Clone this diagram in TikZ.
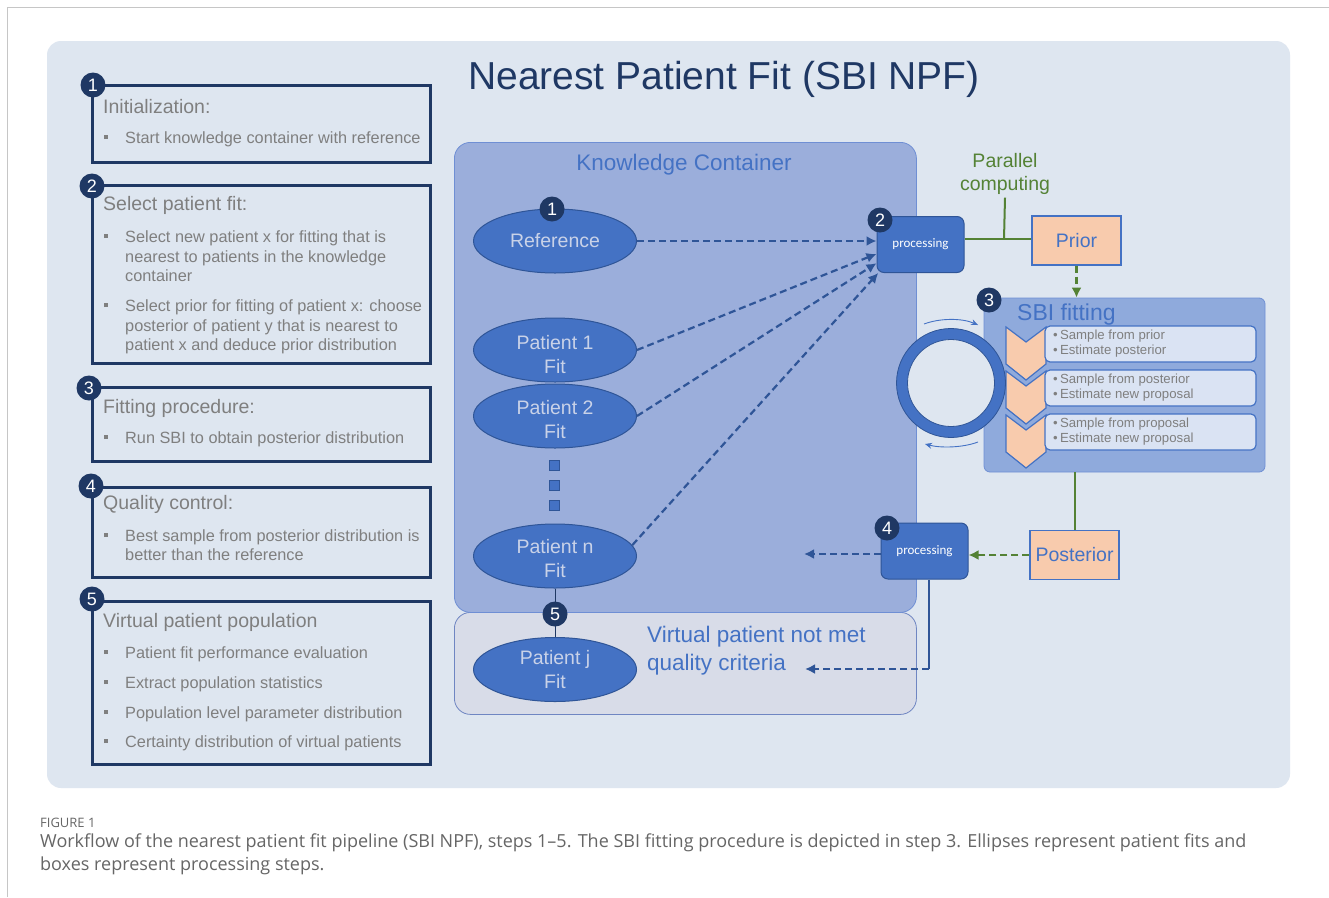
\documentclass[tikz,border=0pt]{standalone}
\usepackage{fontspec}
\setmainfont{Liberation Sans}
\newfontfamily\procfont{Carlito}
\newfontfamily\capfont{Open Sans}
\usetikzlibrary{positioning,shapes.geometric,arrows.meta,calc}

\definecolor{panelbg}{HTML}{DEE6F0}
\definecolor{navy}{HTML}{1F3864}
\definecolor{graytext}{HTML}{7F7F7F}
\definecolor{accent}{HTML}{4472C4}
\definecolor{dark}{HTML}{2F5597}
\definecolor{kcfill}{HTML}{9BAEDB}
\definecolor{kcdraw}{HTML}{6F8FD4}
\definecolor{vpfill}{HTML}{D8DCE8}
\definecolor{vpdraw}{HTML}{6F86C2}
\definecolor{fittext}{HTML}{C9D2E8}
\definecolor{sbifill}{HTML}{8FAADC}
\definecolor{rowfill}{HTML}{DAE3F3}
\definecolor{peach}{HTML}{F8CBAD}
\definecolor{leaf}{HTML}{548235}
\definecolor{capgray}{HTML}{666666}

\newcommand{\fs}[2]{\fontsize{#1}{#2}\selectfont}
\newcommand{\sqitem}{\makebox[22pt][l]{\hspace{0.5pt}\rule[4pt]{4.4pt}{4.4pt}}}

\tikzset{
	badge/.style={circle, fill=navy, text=white, minimum size=25pt, inner sep=0pt, font=\fs{18}{18}},
	stepframe/.style={draw=navy, line width=2.8pt, inner sep=0pt, anchor=north west, minimum width=338pt},
	heading/.style={anchor=base west, inner sep=0pt, text=graytext, font=\fs{19.5}{22}},
	item/.style={anchor=base west, inner sep=0pt, text=graytext, font=\fs{16.3}{18}},
	patient/.style={ellipse, draw=dark, line width=1pt, fill=accent, minimum width=163pt, minimum height=64pt, inner sep=0pt},
	fitlabel/.style={text=fittext, align=center, inner sep=0pt, font=\fs{19.5}{24}},
	procbox/.style={draw=dark, line width=1pt, fill=accent, rounded corners=7pt, minimum width=87pt, minimum height=56pt, text=white, font=\procfont\fs{13}{14}},
	distbox/.style={draw=accent, line width=1.2pt, fill=peach, text=accent, minimum width=89pt, minimum height=49pt, font=\fs{19.5}{22}},
	dotsq/.style={draw=dark, line width=0.6pt, fill=accent, minimum size=10pt, inner sep=0pt},
	flow/.style={draw=dark, line width=2.2pt, dash pattern=on 7pt off 4pt, -{Latex[length=10pt,width=10pt]}},
	dline/.style={draw=dark, line width=2.2pt},
	gline/.style={draw=leaf, line width=2pt},
	gflow/.style={draw=leaf, line width=2.2pt, dash pattern=on 7pt off 4pt, -{Latex[length=10pt,width=10pt]}},
	cycarrow/.style={draw=accent, line width=0.9pt, -{Stealth[length=7pt,width=6pt]}},
	rowtext/.style={anchor=west, inner sep=0pt, align=left, text=graytext, font=\fs{13.2}{15}},
}

\begin{document}
\begin{tikzpicture}[x=1pt, y=-1pt]
	\useasboundingbox (0,0) rectangle (1329,897);
	\fill[white] (0,0) rectangle (1329,897);
	\draw[gray!45, line width=1pt] (7,897) -- (7,7) -- (1329,7);
	% Panel and title
	\fill[panelbg, rounded corners=14pt] (47,41) rectangle (1290,788);
	\node[text=navy, font=\fs{39}{42}] (title) at (724,79) {Nearest Patient Fit (SBI NPF)};

	% Left column: the five steps
	\node[stepframe, minimum height=77pt] (s1) at (91,84) {};
	\node[stepframe, minimum height=178pt] (s2) at (91,184) {};
	\node[stepframe, minimum height=74pt] (s3) at (91,386) {};
	\node[stepframe, minimum height=90pt] (s4) at (91,486) {};
	\node[stepframe, minimum height=163pt] (s5) at (91,600) {};
	\node[badge] (b1) at (93,85) {1};
	\node[badge] (b2) at (92,186) {2};
	\node[badge] (b3) at (89,388) {3};
	\node[badge] (b4) at (91,486) {4};
	\node[badge] (b5) at (92,599) {5};

	\node[heading] (h1) at (103,113) {Initialization:};
	\node[item] (i1) at (103,143) {\sqitem Start knowledge container with reference};
	\node[heading] (h2) at (103,210) {Select patient fit:};
	\node[item] (i2a) at (103,242) {\sqitem Select new patient x for fitting that is};
	\node[item] (i2b) at (125,262) {nearest to patients in the knowledge};
	\node[item] (i2c) at (125,281) {container};
	\node[item] (i2d) at (103,311) {\sqitem Select prior for fitting of patient x: choose};
	\node[item] (i2e) at (125,331) {posterior of patient y that is nearest to};
	\node[item] (i2f) at (125,350) {patient x and deduce prior distribution};
	\node[heading] (h3) at (103,413) {Fitting procedure:};
	\node[item] (i3) at (103,443) {\sqitem Run SBI to obtain posterior distribution};
	\node[heading] (h4) at (103,509) {Quality control:};
	\node[item] (i4a) at (103,541) {\sqitem Best sample from posterior distribution is};
	\node[item] (i4b) at (125,560) {better than the reference};
	\node[heading] (h5) at (103,627) {Virtual patient population};
	\node[item] (i5a) at (103,658) {\sqitem Patient fit performance evaluation};
	\node[item] (i5b) at (103,688) {\sqitem Extract population statistics};
	\node[item] (i5c) at (103,718) {\sqitem Population level parameter distribution};
	\node[item] (i5d) at (103,747) {\sqitem Certainty distribution of virtual patients};

	% Knowledge container
	\node[draw=vpdraw, fill=vpfill, rounded corners=16pt, line width=0.8pt, anchor=north west, minimum width=462pt, minimum height=102pt] (vp) at (454,612) {};
	\node[draw=kcdraw, fill=kcfill, rounded corners=16pt, line width=0.8pt, anchor=north west, minimum width=462pt, minimum height=470pt] (kc) at (454,142) {};
	\node[text=accent, font=\fs{22.5}{26}] (kctitle) at (684,165) {Knowledge Container};

	\node[patient] (ref) at (555,241) {};
	\node[patient] (p1) at (555,350) {};
	\node[patient] (p2) at (555,416) {};
	\foreach \y [count=\k] in {465,485,505}
		\node[dotsq] (dot\k) at (554,\y) {};
	\node[patient] (pn) at (555,556) {};
	\node[patient] (pj) at (555,669.5) {};
	\node[fitlabel] (reft) at (ref) {Reference};
	\node[fitlabel] (p1t) at ([yshift=-5pt]p1.center) {Patient 1\\Fit};
	\node[fitlabel] (p2t) at ([yshift=-4pt]p2.center) {Patient 2\\Fit};
	\node[fitlabel] (pnt) at ([yshift=-3pt]pn.center) {Patient n\\Fit};
	\node[fitlabel] (pjt) at (pj) {Patient j\\Fit};
	\node[text=accent, anchor=west, align=left, inner sep=0pt, font=\fs{22.5}{28}] (vpt) at (647,651) {Virtual patient not met\\quality criteria};

	% Processing and distributions
	\node[procbox] (proc2) at (920.5,244.5) {processing};
	\node[procbox] (proc4) at (924.5,551) {processing};
	\node[distbox] (prior) at (1076.5,240.5) {Prior};
	\node[distbox] (post) at (1074.5,555) {Posterior};
	\node[text=leaf, align=center, font=\fs{19.5}{23}] (par) at (1005,173.5) {Parallel\\computing};
	\coordinate (gjoin) at (1004,239);

	% SBI fitting
	\node[draw=kcdraw, fill=sbifill, rounded corners=6pt, line width=0.8pt, minimum width=281pt, minimum height=174pt] (sbi) at (1124.5,385) {};
	\node[text=accent, anchor=base west, inner sep=0pt, font=\fs{23}{26}] (sbit) at (1017,320) {SBI fitting};
	\foreach \i/\ta/\tb in {0/Sample from prior/Estimate posterior, 1/Sample from posterior/Estimate new proposal, 2/Sample from proposal/Estimate new proposal} {
		\pgfmathsetmacro\t{327+44*\i}
		\filldraw[fill=peach, draw=accent, line width=1.2pt] (1006,\t) -- (1026,\t+15) -- (1046,\t) -- (1046,\t+37) -- (1026,\t+53) -- (1006,\t+37) -- cycle;
		\node[draw=accent, fill=rowfill, line width=1.2pt, rounded corners=5pt, minimum width=211pt, minimum height=36pt] (row\i) at (1150.5,\t+17) {};
		\node[rowtext] (rt\i) at (1053,\t+17) {\textbullet\,\ta\\\textbullet\,\tb};
	}
	\node[circle, fill=accent, draw=dark, line width=0.8pt, minimum size=109pt, inner sep=0pt] (cycle) at (951,383) {};
	\node[circle, fill=panelbg, draw=dark, line width=0.8pt, minimum size=87pt, inner sep=0pt] (hole) at (cycle) {};
	\coordinate (c1) at (924,324);
	\coordinate (c2) at (978,325);
	\coordinate (c3) at (978,442);
	\coordinate (c4) at (925,444);
	\draw[cycarrow] (c1) .. controls (940,318) and (962,318) .. (c2);
	\draw[cycarrow] (c3) .. controls (962,448) and (940,448) .. (c4);

	% Connectors
	\draw[flow] (ref.east) -- (ref.east -| proc2.west);
	\draw[flow] (p1.east) -- (proc2.192);
	\draw[flow] (p2.east) -- (proc2.203);
	\draw[flow] (pn.8) -- (proc2.214);
	\draw[gline] (proc2.east |- gjoin) -- (prior.west |- gjoin);
	\draw[gline] (par.south) -- (gjoin);
	\draw[gflow] (prior.south) -- (prior.south |- sbi.north);
	\draw[gline] (sbi.south -| post.north) -- (post.north);
	\draw[gflow] (post.west) -- (post.west -| proc4.east);
	\coordinate (kcin) at (804,554);
	\draw[flow] (proc4.west |- kcin) -- (kcin);
	\coordinate (turn) at (929,669);
	\coordinate (vpin) at (805,669);
	\draw[dline] (proc4.south -| turn) -- (turn);
	\draw[flow] (turn) -- (vpin);
	\draw[navy, line width=0.8pt] (pn.south) -- (pj.north);

	% Step numbers on the diagram
	\node[badge] (n1) at (552,209) {1};
	\node[badge] (n2) at (880,220) {2};
	\node[badge] (n3) at (989,300) {3};
	\node[badge] (n4) at (887,528) {4};
	\node[badge] (n5) at (555,614) {5};

	% Caption
	\node[anchor=west, inner sep=0pt, text=capgray, font=\capfont\fs{13}{14}] (figlbl) at (40,823) {FIGURE 1};
	\node[anchor=west, inner sep=0pt, text=capgray, font=\capfont\fs{18}{20}] (cap1) at (40,843) {Workflow of the nearest patient fit pipeline (SBI NPF), steps 1–5. The SBI fitting procedure is depicted in step 3. Ellipses represent patient fits and};
	\node[anchor=west, inner sep=0pt, text=capgray, font=\capfont\fs{18}{20}] (cap2) at (40,866) {boxes represent processing steps.};
\end{tikzpicture}
\end{document}
